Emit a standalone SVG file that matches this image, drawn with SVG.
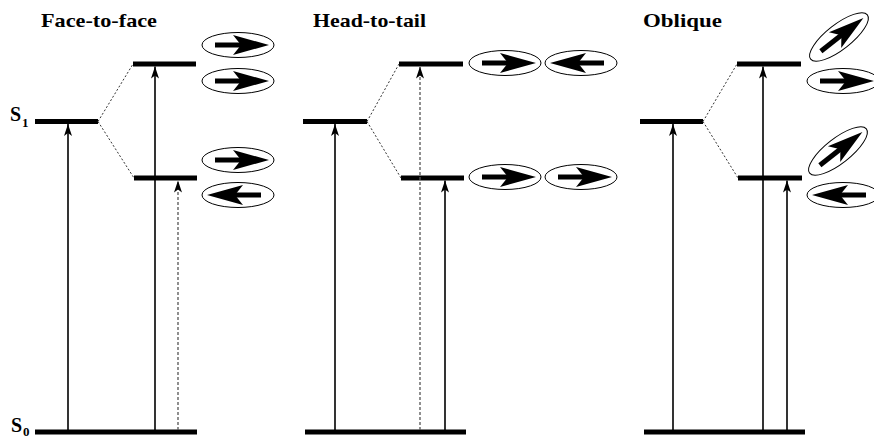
<svg xmlns="http://www.w3.org/2000/svg" xmlns:xlink="http://www.w3.org/1999/xlink" width="874" height="438" viewBox="0 0 874 438">
  <style>
    .title { font-family: "Liberation Serif", "Times New Roman", serif; font-weight: bold; font-size: 19px; fill: #000; }
    .state { font-family: "Liberation Serif", "Times New Roman", serif; font-weight: bold; font-size: 20px; fill: #000; }
    .sub { font-family: "Liberation Serif", "Times New Roman", serif; font-weight: bold; font-size: 13px; fill: #000; }
    .level { stroke: #000; stroke-width: 5; fill: none; }
    .corr { stroke: #333; stroke-width: 1; stroke-dasharray: 2 2; fill: none; }
    .trans { stroke: #000; stroke-width: 1.6; fill: none; marker-end: url(#head); }
    .dark { stroke: #555; stroke-width: 1.3; stroke-dasharray: 3 2; fill: none; marker-end: url(#head); }
    .mol { fill: #fff; stroke: #000; stroke-width: 1; }
  </style>
  <defs>
    <marker id="head" markerUnits="userSpaceOnUse" markerWidth="12" markerHeight="8" refX="12" refY="4" orient="auto" viewBox="0 0 12 8">
      <path d="M12,4 L0,0 L3,4 L0,8 Z" fill="#000"/>
    </marker>
    <!-- transition dipole drawn inside a molecule ellipse, pointing right -->
    <g id="dipole">
      <rect x="-23" y="-2.5" width="27" height="5" fill="#000"/>
      <path d="M31,0 L-5,-10 L3,0 L-5,10 Z" fill="#000"/>
    </g>
    <g id="molR">
      <ellipse class="mol" cx="0" cy="0" rx="36" ry="12.5"/>
      <use xlink:href="#dipole"/>
    </g>
    <g id="molL">
      <ellipse class="mol" cx="0" cy="0" rx="36" ry="12.5"/>
      <use xlink:href="#dipole" transform="scale(-1,1)"/>
    </g>
  </defs>

  <!-- state labels -->
  <g id="label-s1">
    <text class="state" x="10" y="121">S</text>
    <text class="sub" x="22" y="127">1</text>
  </g>
  <g id="label-s0">
    <text class="state" x="11" y="432">S</text>
    <text class="sub" x="23" y="436">0</text>
  </g>

  <!-- Face-to-face -->
  <g id="face-to-face">
    <text class="title" x="41" y="27" textLength="116" lengthAdjust="spacingAndGlyphs">Face-to-face</text>
    <g id="ftf-levels">
      <line class="level" x1="35" y1="432" x2="197" y2="432"/>
      <line class="level" x1="35" y1="121.5" x2="98" y2="121.5"/>
      <line class="level" x1="133" y1="64" x2="196" y2="64"/>
      <line class="level" x1="134" y1="178" x2="197" y2="178"/>
    </g>
    <g id="ftf-molecules">
      <use xlink:href="#molR" x="238" y="45"/>
      <use xlink:href="#molR" x="238" y="81"/>
      <use xlink:href="#molR" x="238" y="160"/>
      <use xlink:href="#molL" x="238" y="195"/>
    </g>
  </g>

  <!-- Head-to-tail -->
  <g id="head-to-tail">
    <text class="title" x="313" y="27" textLength="113" lengthAdjust="spacingAndGlyphs">Head-to-tail</text>
    <g id="htt-levels">
      <line class="level" x1="305" y1="432" x2="466" y2="432"/>
      <line class="level" x1="303" y1="121.5" x2="367" y2="121.5"/>
      <line class="level" x1="399" y1="64" x2="463" y2="64"/>
      <line class="level" x1="401" y1="178" x2="464" y2="178"/>
    </g>
    <g id="htt-molecules">
      <use xlink:href="#molR" x="505" y="63"/>
      <use xlink:href="#molL" x="581" y="63"/>
      <use xlink:href="#molR" x="505" y="177"/>
      <use xlink:href="#molR" x="581" y="177"/>
    </g>
  </g>

  <!-- Oblique -->
  <g id="oblique">
    <text class="title" x="643" y="27" textLength="79" lengthAdjust="spacingAndGlyphs">Oblique</text>
    <g id="obl-levels">
      <line class="level" x1="644" y1="432" x2="805" y2="432"/>
      <line class="level" x1="640" y1="121.5" x2="703" y2="121.5"/>
      <line class="level" x1="737" y1="64" x2="801" y2="64"/>
      <line class="level" x1="738" y1="178" x2="802" y2="178"/>
    </g>
    <g id="obl-molecules">
      <use xlink:href="#molR" transform="translate(839,37) rotate(-38)"/>
      <use xlink:href="#molR" x="843" y="81"/>
      <use xlink:href="#molR" transform="translate(838,151) rotate(-38)"/>
      <use xlink:href="#molL" x="843" y="195"/>
    </g>
  </g>

  <!-- connectors: level correlations and transitions -->
  <g id="connectors">
    <line class="corr" x1="98" y1="121.5" x2="133" y2="64"/>
    <line class="corr" x1="98" y1="121.5" x2="134" y2="178"/>
    <line class="corr" x1="367" y1="121.5" x2="399" y2="64"/>
    <line class="corr" x1="367" y1="121.5" x2="401" y2="178"/>
    <line class="corr" x1="703" y1="121.5" x2="737" y2="64"/>
    <line class="corr" x1="703" y1="121.5" x2="738" y2="178"/>

    <line class="trans" x1="68" y1="430" x2="68" y2="124"/>
    <line class="trans" x1="155" y1="430" x2="155" y2="66.5"/>
    <line class="dark" x1="178" y1="430" x2="178" y2="180.5"/>

    <line class="trans" x1="335" y1="430" x2="335" y2="124"/>
    <line class="dark" x1="420" y1="430" x2="420" y2="66.5"/>
    <line class="trans" x1="445" y1="430" x2="445" y2="180.5"/>

    <line class="trans" x1="673" y1="430" x2="673" y2="124"/>
    <line class="trans" x1="763" y1="430" x2="763" y2="66.5"/>
    <line class="trans" x1="787" y1="430" x2="787" y2="180.5"/>
  </g>
</svg>
